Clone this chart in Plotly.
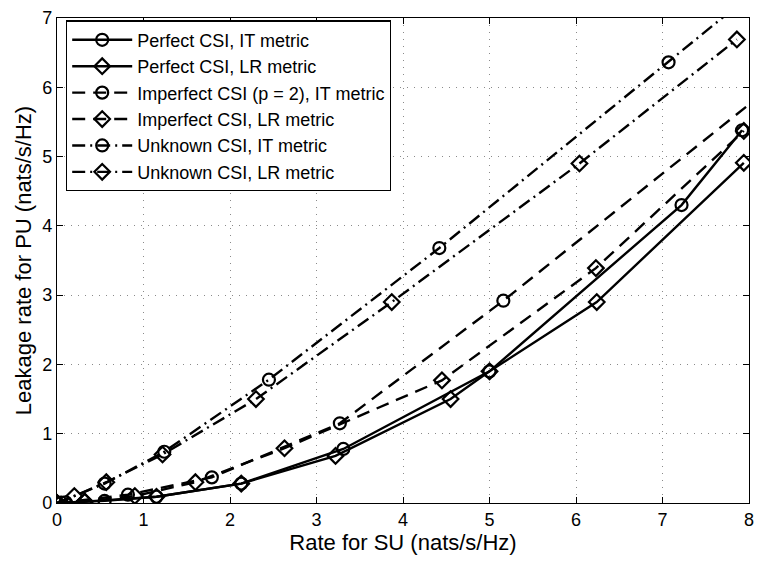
import plotly.graph_objects as go

# ---- data ----
perfect_it_x = [0.0, 0.05, 0.55, 1.15, 2.13, 3.31, 5.0, 7.22, 7.92]
perfect_it_y = [0.0, 0.005, 0.03, 0.09, 0.28, 0.78, 1.9, 4.3, 5.38]

perfect_lr_x = [0.0, 0.32, 1.15, 2.13, 3.22, 4.55, 5.0, 6.24, 7.94]
perfect_lr_y = [0.0, 0.02, 0.09, 0.28, 0.68, 1.5, 1.9, 2.9, 4.91]

imperfect_it_x = [0.0, 0.1, 0.82, 1.79, 3.27, 5.16, 8.25]
imperfect_it_y = [0.0, 0.01, 0.12, 0.37, 1.15, 2.92, 6.0]

imperfect_lr_x = [0.0, 0.32, 0.9, 1.6, 2.63, 4.45, 6.23, 7.94]
imperfect_lr_y = [0.0, 0.02, 0.1, 0.3, 0.79, 1.77, 3.39, 5.37]

unknown_it_x = [0.0, 0.55, 1.24, 2.45, 4.42, 7.07, 8.3]
unknown_it_y = [0.0, 0.28, 0.74, 1.78, 3.68, 6.36, 7.62]

unknown_lr_x = [0.0, 0.2, 0.57, 1.22, 2.3, 3.87, 6.04, 7.86]
unknown_lr_y = [0.0, 0.1, 0.3, 0.7, 1.5, 2.9, 4.9, 6.69]

names = [
    "Perfect CSI, IT metric",
    "Perfect CSI, LR metric",
    "Imperfect CSI (p = 2), IT metric",
    "Imperfect CSI, LR metric",
    "Unknown CSI, IT metric",
    "Unknown CSI, LR metric",
]
x_ticks = [0, 1, 2, 3, 4, 5, 6, 7, 8]
y_ticks = [0, 1, 2, 3, 4, 5, 6, 7]

series = [
    (perfect_it_x, perfect_it_y, "solid", "circle-open"),
    (perfect_lr_x, perfect_lr_y, "solid", "diamond-open"),
    (imperfect_it_x, imperfect_it_y, "13px,8px", "circle-open"),
    (imperfect_lr_x, imperfect_lr_y, "13px,8px", "diamond-open"),
    (unknown_it_x, unknown_it_y, "13px,5px,2px,5px", "circle-open"),
    (unknown_lr_x, unknown_lr_y, "13px,5px,2px,5px", "diamond-open"),
]

fig = go.Figure()
for name, (xs, ys, dash, sym) in zip(names, series):
    fig.add_trace(go.Scatter(
        x=xs, y=ys, name=name, mode="lines+markers",
        line=dict(color="black", width=2.4, dash=dash),
        marker=dict(symbol=sym, size=12, color="black",
                    line=dict(color="black", width=2.2)),
    ))

font_family = "Liberation Sans, Arial, sans-serif"
axis_common = dict(
    showgrid=True, gridcolor="#8a8a8a", gridwidth=1, griddash="1px,6px",
    zeroline=False, showline=True, linecolor="black", linewidth=1.2,
    mirror="ticks", ticks="inside", ticklen=6, tickcolor="black",
    ticklabeloverflow="allow",
    tickfont=dict(size=18, color="black", family=font_family),
)

fig.update_layout(
    width=762, height=564,
    margin=dict(l=57, r=8, t=8, b=61),
    paper_bgcolor="white", plot_bgcolor="white",
    font=dict(family=font_family, color="black"),
    showlegend=True,
    legend=dict(
        x=0.013, y=0.995, xanchor="left", yanchor="top",
        bgcolor="white", bordercolor="black", borderwidth=1.2,
        font=dict(size=18, color="black", family=font_family),
        itemwidth=60, tracegroupgap=0,
    ),
    xaxis=dict(
        range=[0, 8], tickvals=x_ticks,
        title=dict(text="Rate for SU (nats/s/Hz)", standoff=2,
                   font=dict(size=22, family=font_family)),
        **axis_common,
    ),
    yaxis=dict(
        range=[0, 7], tickvals=y_ticks,
        title=dict(text="Leakage rate for PU (nats/s/Hz)", standoff=4,
                   font=dict(size=22, family=font_family)),
        **axis_common,
    ),
)

fig.write_html("out.html")
